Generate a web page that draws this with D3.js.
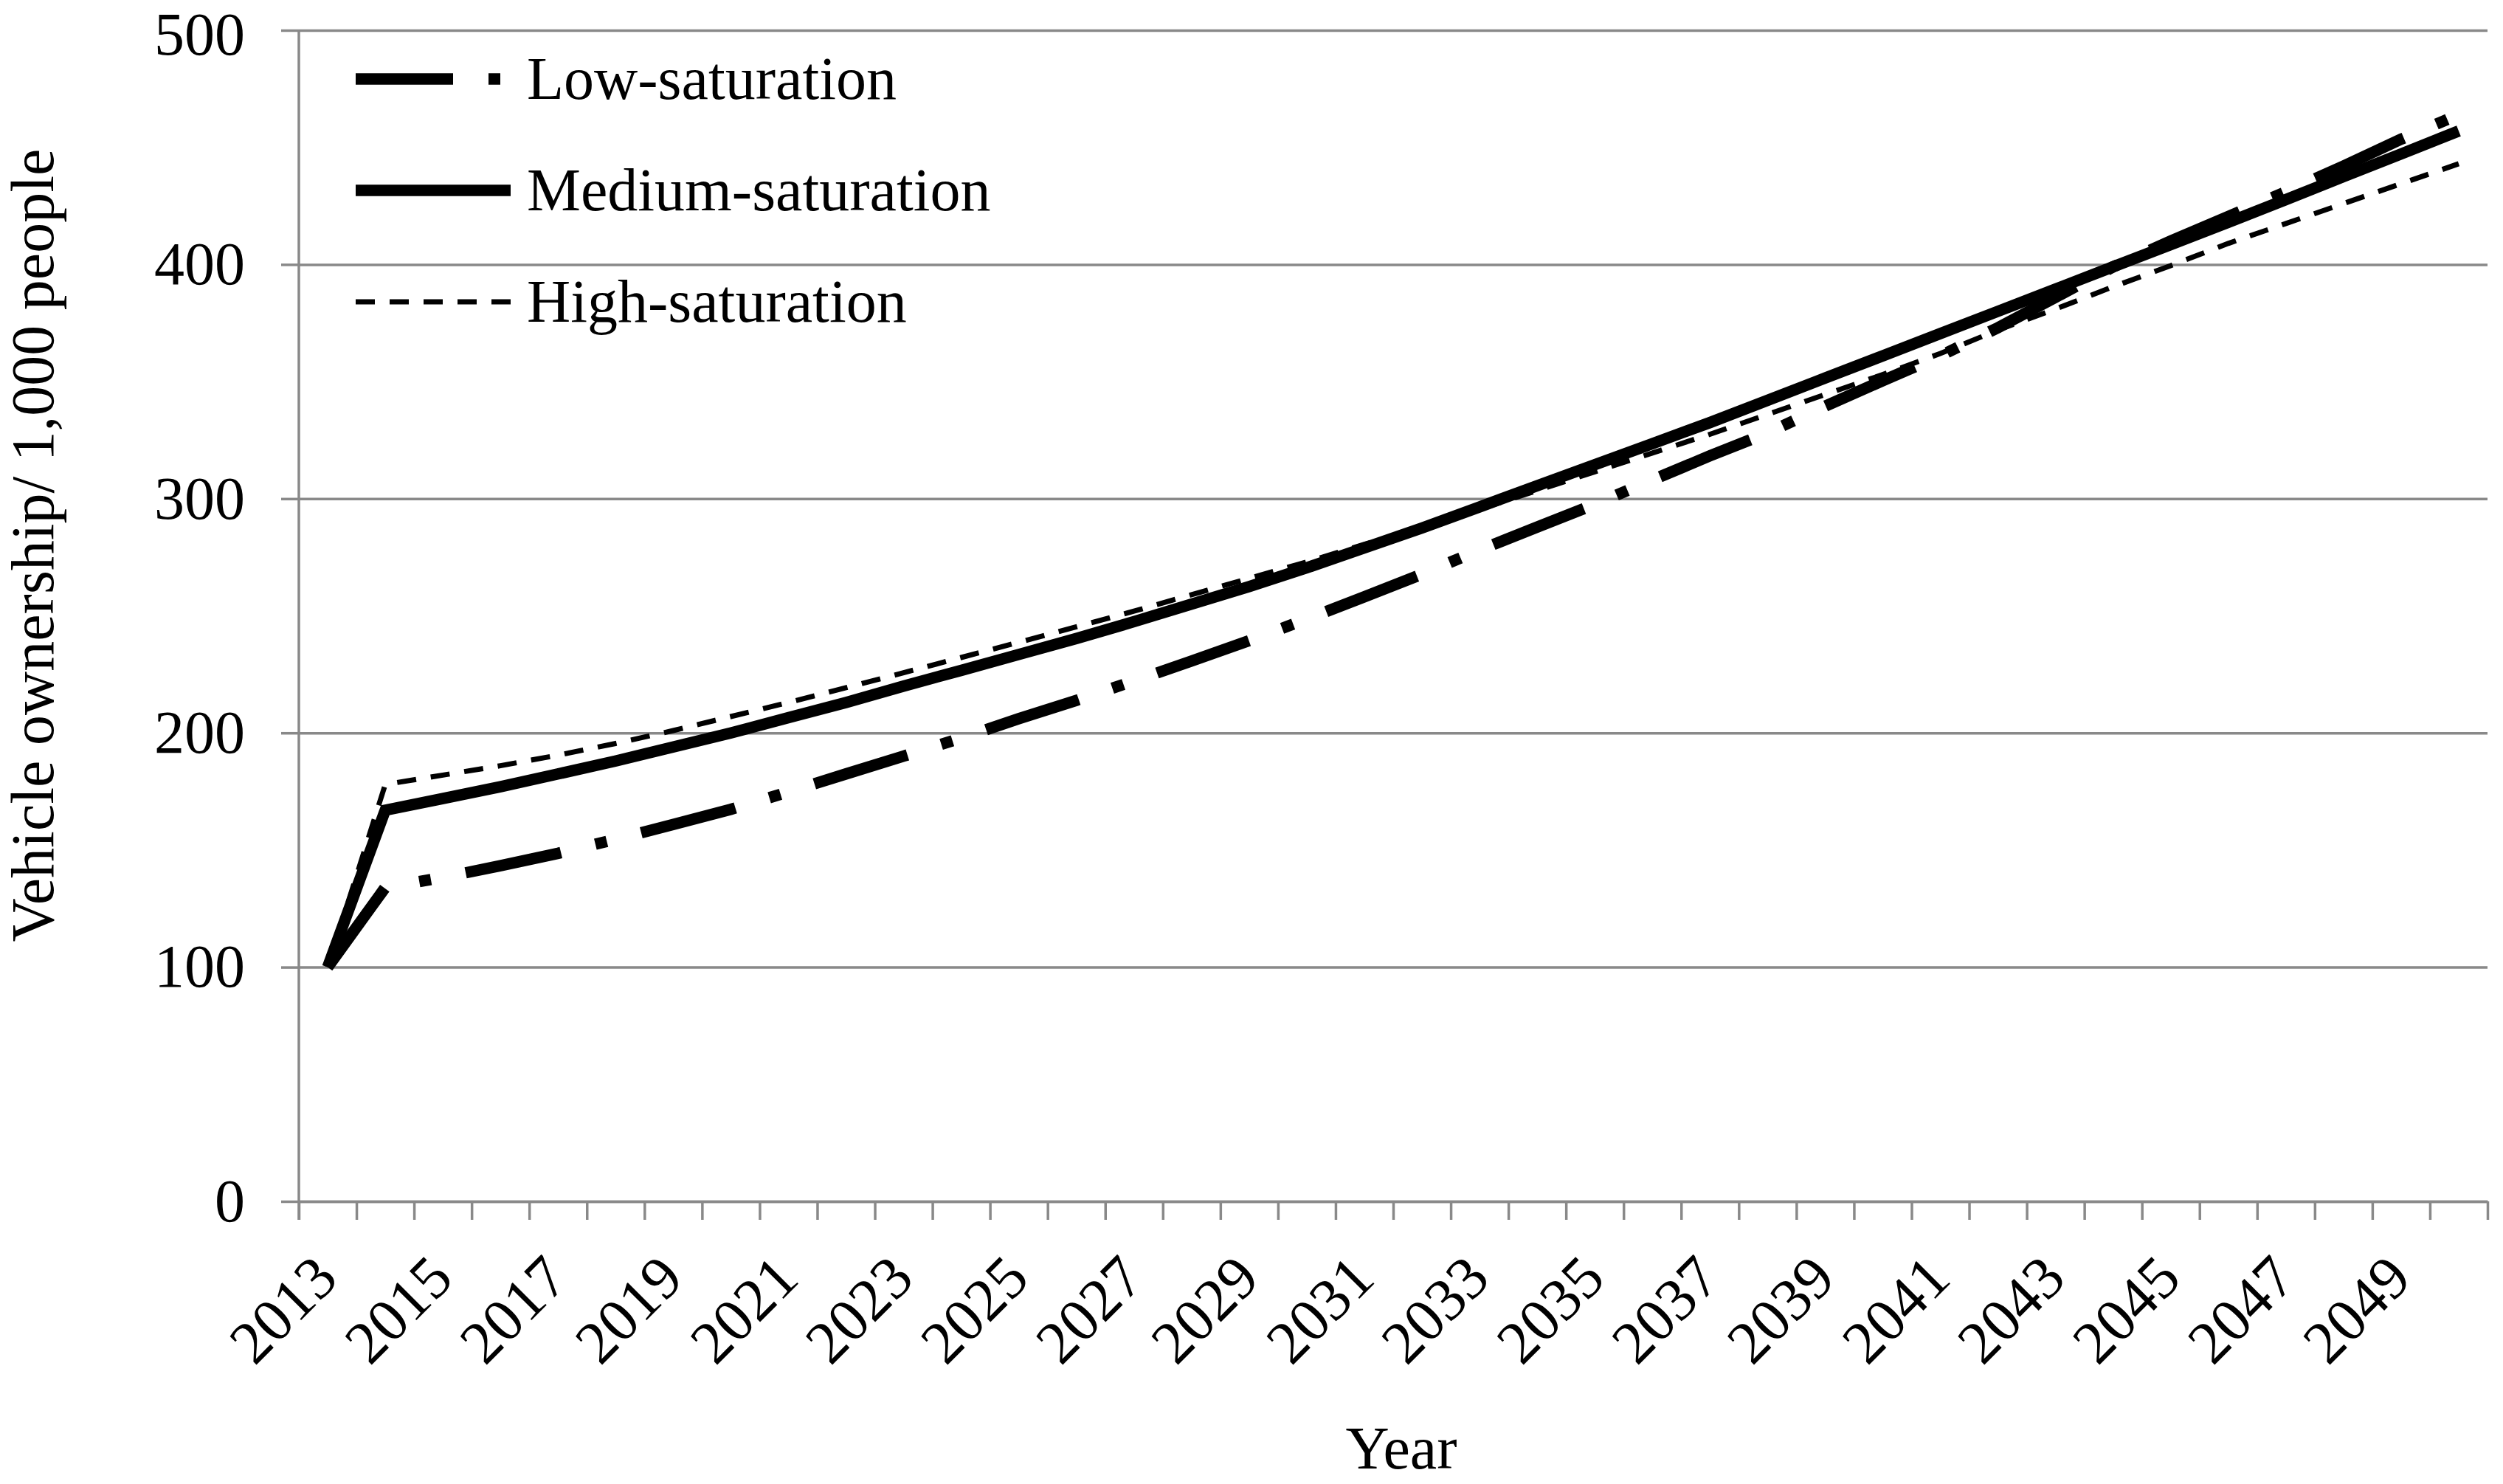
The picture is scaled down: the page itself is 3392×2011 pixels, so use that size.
<!DOCTYPE html>
<html>
<head>
<meta charset="utf-8">
<script src="https://cdn.jsdelivr.net/npm/d3@7"></script>
<style>
  body { margin: 0; background: #fff; }
  text { font-family: "Liberation Serif", "Times New Roman", serif; fill: #000; }
</style>
</head>
<body>
<svg id="chart"></svg>
<script>
// categories (one per year) and the three scenarios
const years = [2013, 2014, 2015, 2016, 2017, 2018, 2019, 2020, 2021, 2022,
               2023, 2024, 2025, 2026, 2027, 2028, 2029, 2030, 2031, 2032,
               2033, 2034, 2035, 2036, 2037, 2038, 2039, 2040, 2041, 2042,
               2043, 2044, 2045, 2046, 2047, 2048, 2049, 2050];

const lowSat = [100, 134, 138.3, 143.3, 148.6, 154.6, 160.9, 167.4, 174.8, 182.5,
                190.1, 197.8, 206.1, 213.9, 222.2, 230.7, 239.4, 248.6, 258.1, 267.8,
                278.1, 287.9, 297.6, 308, 318.3, 328.1, 339.5, 350.4, 361, 373,
                386, 399, 410, 420.5, 431, 442, 453.5, 464];

const medSat = [100, 167, 172, 177, 182.5, 188, 194, 200, 206.5, 213,
                220, 226.7, 233.5, 240.3, 247.5, 255, 262.5, 270.5, 279, 287.5,
                296.5, 305.5, 314.5, 323.5, 332.5, 342, 351.5, 361, 370.5, 380,
                389.5, 399, 408.5, 418, 427.7, 437.5, 447.2, 457];

const highSat = [100, 178, 182, 186, 190.5, 195.5, 201, 207, 213, 219.3,
                 225.7, 232.2, 238.7, 245.3, 252, 259, 266, 273, 280.5, 288,
                 295.5, 303.5, 311.5, 319.5, 327.5, 336, 344.5, 353, 362, 372,
                 381, 390.5, 399.5, 409, 417.5, 426, 434.5, 443];

const yTicks = [0, 100, 200, 300, 400, 500];
const xLabels = years.filter((d, i) => i % 2 === 0); // 2013, 2015 ... 2049

const seriesNames = ["Low-saturation", "Medium-saturation", "High-saturation"];

const W = 3392, H = 2011;
const plotL = 405, plotR = 3371, plotT = 41, plotB = 1628;
const grey = "#898989";
const serif = '"Liberation Serif", "Times New Roman", serif';

const svg = d3.select("#chart").attr("width", W).attr("height", H);

const x = d3.scaleBand().domain(years).range([plotL, plotR]).padding(0);
const y = d3.scaleLinear().domain([0, 500]).range([plotB, plotT]);
// boundaries between categories, for the tick marks
const xEdge = d3.scaleLinear().domain([0, years.length]).range([plotL, plotR]);

// horizontal gridlines
svg.append("g")
    .attr("transform", `translate(${plotL},0)`)
    .call(d3.axisLeft(y).tickValues(yTicks).tickSize(-(plotR - plotL)).tickFormat(""))
    .call(g => g.select(".domain").remove())
    .call(g => g.selectAll("line").attr("stroke", grey).attr("stroke-width", 3.5));

// y axis with outside ticks and labels
svg.append("g")
    .attr("transform", `translate(${plotL},0)`)
    .call(d3.axisLeft(y).tickValues(yTicks).tickSize(24).tickSizeOuter(0).tickPadding(49))
    .call(g => g.select(".domain").attr("stroke", grey).attr("stroke-width", 3.5)
        .attr("d", `M0,${plotT}V${plotB + 25}`))
    .call(g => g.selectAll("line").attr("stroke", grey).attr("stroke-width", 3.5))
    .call(g => g.selectAll("text").attr("font-size", 82).style("font-family", serif))
    // keep the top label inside the page
    .call(g => g.selectAll("text").filter(d => d === 500).attr("dy", "0.4em"));

// x axis: ticks between categories
svg.append("g")
    .attr("transform", `translate(0,${plotB})`)
    .call(d3.axisBottom(xEdge).tickValues(d3.range(years.length + 1)).tickSize(25)
        .tickSizeOuter(0).tickFormat(""))
    .call(g => g.select(".domain").attr("stroke", grey).attr("stroke-width", 3.5))
    .call(g => g.selectAll("line").attr("stroke", grey).attr("stroke-width", 3.5));

// rotated category labels
svg.append("g").selectAll("text")
    .data(xLabels)
    .join("text")
    .attr("transform", d => `translate(${x(d) + x.bandwidth() / 2 + 17},${plotB + 108}) rotate(-45)`)
    .attr("text-anchor", "end")
    .attr("font-size", 82)
    .text(d => d);

// axis titles
svg.append("text")
    .attr("x", 1899).attr("y", 1990)
    .attr("text-anchor", "middle")
    .attr("font-size", 82)
    .text("Year");

svg.append("text")
    .attr("transform", "translate(72,739) rotate(-90)")
    .attr("text-anchor", "middle")
    .attr("font-size", 82)
    .text("Vehicle ownership/ 1,000 people");

// series
const styles = [
  { values: lowSat, width: 15.5, dash: "132,48,16,48" },
  { values: medSat, width: 15.5, dash: null },
  { values: highSat, width: 7, dash: "26,20" }
];

const line = d3.line()
    .x((d, i) => x(years[i]) + x.bandwidth() / 2)
    .y(d => y(d));

svg.append("g").selectAll("path")
    .data(styles)
    .join("path")
    .attr("d", d => line(d.values))
    .attr("fill", "none")
    .attr("stroke", "#000")
    .attr("stroke-width", d => d.width)
    .attr("stroke-dasharray", d => d.dash);

// legend
const legend = svg.append("g");
const legendY = [107, 258, 409];
styles.forEach((s, i) => {
  legend.append("line")
      .attr("x1", 482).attr("x2", 692)
      .attr("y1", legendY[i]).attr("y2", legendY[i])
      .attr("stroke", "#000")
      .attr("stroke-width", s.width)
      .attr("stroke-dasharray", s.dash);
  legend.append("text")
      .attr("x", 714).attr("y", legendY[i] + 27)
      .attr("font-size", 82)
      .text(seriesNames[i]);
});
</script>
</body>
</html>
